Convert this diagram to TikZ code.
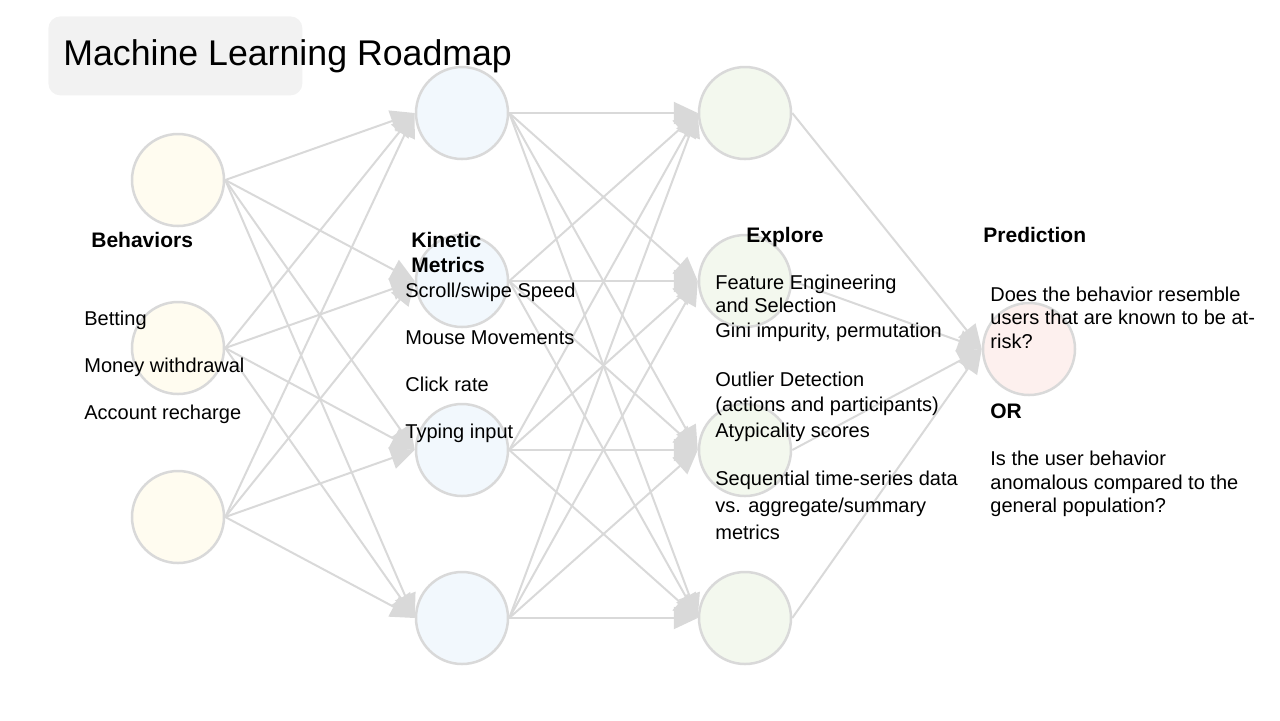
\documentclass[tikz,border=0pt]{standalone}
\usepackage{fontspec}
\setmainfont{Liberation Sans}
\usetikzlibrary{arrows.meta}
\definecolor{linkgray}{HTML}{D9D9D9}
\definecolor{titlegray}{HTML}{F2F2F2}
\definecolor{behfill}{HTML}{FFFCF0}
\definecolor{kinfill}{HTML}{F2F8FD}
\definecolor{expfill}{HTML}{F3F8EE}
\definecolor{predfill}{HTML}{FDF0EE}

\begin{document}
\begin{tikzpicture}[x=0.5pt, y=-0.5pt,
    neuron/.style={circle, draw=linkgray, line width=1.25pt, minimum size=46pt, inner sep=0pt},
    link/.style={draw=linkgray, line width=1pt, -{Triangle[length=12pt, width=11pt]}},
    txt/.style={anchor=base west, inner sep=0pt, font=\fontsize{10}{12}\selectfont},
    head/.style={anchor=base west, inner sep=0pt, font=\fontsize{10.5}{12}\selectfont\bfseries}]
    \useasboundingbox (0,0) rectangle (1280,720);

    % Title
    \node[fill=titlegray, rounded corners=6pt, minimum width=127pt, minimum height=39.5pt,
          anchor=north west] (titlebox) at (48,16) {};
    \node[anchor=base west, inner sep=0pt, font=\fontsize{17.85}{20}\selectfont] (title) at (63,65) {Machine Learning Roadmap};

    % Layers of the network
    \foreach \y [count=\i] in {180,348,517}
        \node[neuron, fill=behfill] (beh\i) at (178,\y) {};
    \foreach \y [count=\i] in {113,281,450,618} {
        \node[neuron, fill=kinfill] (kin\i) at (462,\y) {};
        \node[neuron, fill=expfill] (exp\i) at (745,\y) {};
    }
    \node[neuron, fill=predfill] (pred) at (1029,349) {};

    % Connections, east side to west side
    \foreach \i in {1,2,3}
        \foreach \j in {1,...,4}
            \draw[link] (beh\i.east) -- (kin\j.west);
    \foreach \i in {1,...,4} {
        \foreach \j in {1,...,4}
            \draw[link] (kin\i.east) -- (exp\j.west);
        \draw[link] (exp\i.east) -- (pred.west);
    }

    % Headings
    \node[head] (behhead) at (91,247) {Behaviors};
    \node[head] (kinhead) at (411,247) {Kinetic};
    \node[head] (kinhead2) at (411,272) {Metrics};
    \node[head] (exphead) at (746,242) {Explore};
    \node[head] (predhead) at (983,242) {Prediction};
    \node[head] (orhead) at (990,418) {OR};

    % Texts of each layer
    \foreach \t [count=\i] in {Betting, Money withdrawal, Account recharge}
        \node[txt] (behtxt\i) at (84,{278+47*\i}) {\t};
    \foreach \t [count=\i] in {Scroll/swipe Speed, Mouse Movements, Click rate, Typing input}
        \node[txt] (kintxt\i) at (405,{250+47*\i}) {\t};
    \foreach \y/\t [count=\i] in {289/Feature Engineering, 312/and Selection,
            {337/Gini impurity, permutation}, 386/Outlier Detection,
            411/(actions and participants), 437/Atypicality scores,
            485/Sequential time-series data, 512/{vs. aggregate/summary}, 539/metrics}
        \node[txt] (exptxt\i) at (715,\y) {\t};
    \foreach \y/\t [count=\i] in {301/Does the behavior resemble, 324/users that are known to be at-,
            348/risk?, 465/Is the user behavior, 489/anomalous compared to the, 512/general population?}
        \node[txt] (predtxt\i) at (990,\y) {\t};
\end{tikzpicture}
\end{document}
